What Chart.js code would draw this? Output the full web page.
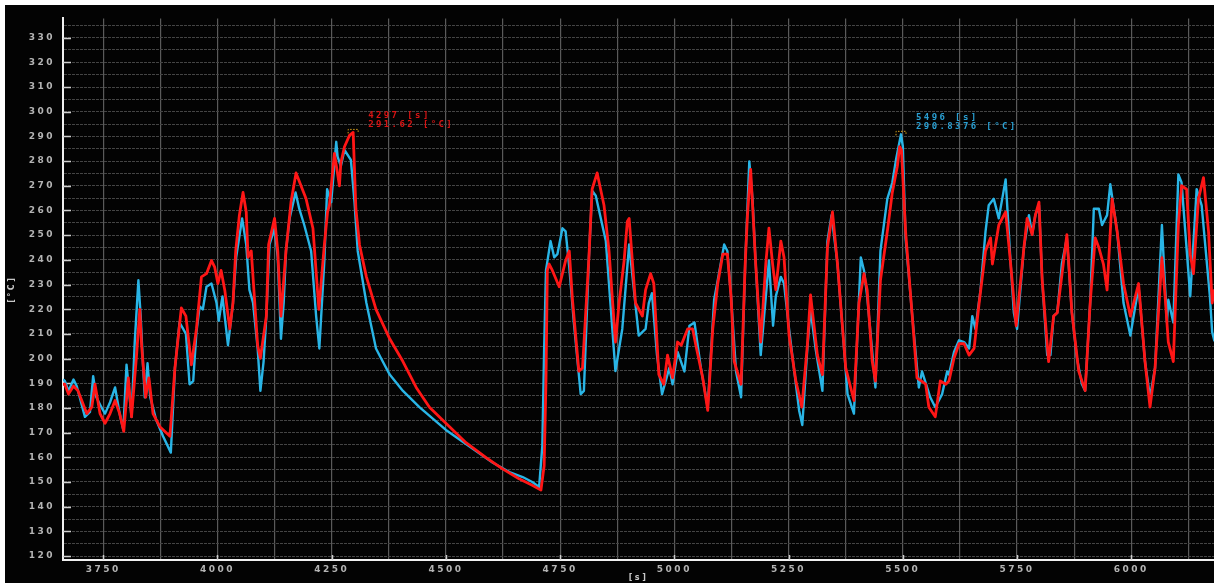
<!DOCTYPE html>
<html>
<head>
<meta charset="utf-8">
<script src="https://cdn.jsdelivr.net/npm/chart.js@4.4.1/dist/chart.umd.min.js"></script>
<style>
  html, body { margin: 0; padding: 0; background: #ffffff; width: 1214px; height: 583px; overflow: hidden; }
  #wrap { position: absolute; left: 5px; top: 5px; width: 1209px; height: 578px; background: #030303; }
</style>
</head>
<body>
<div id="wrap"><canvas id="chart"></canvas></div>
<script>
// Sensor 1 (blue) — time [s] and temperature [°C]
const blueTime = [3662,3666,3674,3685,3692,3710,3721,3728,3735,3746,3754,3765,3776,3786,3794,3801,3812,3819,3827,3832,3836,3841,3847,3853,3866,3881,3898,3907,3917,3925,3931,3939,3947,3954,3961,3968,3976,3987,3998,4003,4011,4023,4034,4041,4054,4063,4070,4078,4088,4094,4101,4107,4114,4125,4132,4139,4145,4150,4158,4171,4179,4190,4205,4216,4223,4234,4240,4249,4260,4263,4270,4278,4292,4300,4307,
  4326,4347,4358,4377,4406,4442,4500,4551,4602,4639,4668,4689,4704,4711,4715,4719,4729,4737,4744,4755,4762,4770,4780,4795,4802,4813,4820,4828,4850,4871,4886,4901,4922,4937,4944,4951,4962,4973,
  4989,4996,5007,5022,5033,5044,5058,5073,5087,5095,5109,5116,5124,5135,5146,5155,5164,5171,5178,5189,5207,5216,5222,5233,5240,5251,5273,5280,5291,5298,5309,5324,5335,5344,5357,5379,5393,5408,5415,5422,5440,5451,5466,5477,5485,5496,5500,5506,5520,5535,5542,5560,5571,5586,5597,
  5601,5612,5623,5634,5645,5652,5659,5670,5681,5688,5699,5710,5725,5736,5743,5750,5765,5776,5783,5790,5798,5805,5816,5823,5830,5838,5848,5859,5870,5881,5892,5899,5910,5918,5929,5936,5947,5954,5969,5983,5998,6016,6030,6041,6052,6067,6078,6081,6092,6103,6110,6129,6143,6154,6172,6177,6182];
const blueTemp = [191.5,190.9,186.9,191.5,188.9,176.4,178.4,192.9,184.3,180.3,177.7,182.3,188.3,177.7,171.1,197.5,176.4,206.7,231.7,217.2,201.4,184.3,198.1,184.3,175.1,168.5,161.9,196.2,214.6,212.0,210.0,189.6,190.9,210.7,221.2,219.9,229.1,230.4,222.5,215.3,225.2,205.4,222.5,241.0,256.8,246.2,227.8,222.5,204.1,186.9,198.8,217.2,246.2,252.8,241.0,208.0,222.5,243.6,256.8,267.3,260.7,254.1,243.6,217.2,204.1,239.7,268.6,263.4,287.8,281.8,277.9,284.5,280.5,263.4,243.6,
  222.5,204.1,200.1,193.5,186.9,180.3,171.1,164.5,157.9,154.0,152.0,150.0,148.0,164.5,204.1,235.7,247.6,241.0,242.3,252.8,251.5,237.0,214.6,185.6,186.9,241.0,268.0,266.0,247.6,194.9,212.0,246.2,209.3,212.0,222.5,226.5,201.4,185.6,
  196.2,189.6,202.7,194.8,213.3,214.6,196.2,180.3,223.8,231.7,246.2,243.6,225.2,194.8,184.3,238.3,279.9,264.7,238.3,201.4,239.7,213.3,225.2,233.1,230.4,212.0,179.0,173.1,204.1,219.9,204.1,186.9,247.6,258.1,238.3,185.6,177.7,241.0,235.7,225.2,188.3,243.6,264.7,271.3,280.5,290.8376,286.0,248.9,218.6,188.3,194.8,184.3,180.3,185.6,194.8,
  193.5,202.7,207.4,206.7,204.1,217.2,212.0,227.8,251.5,262.1,264.7,256.8,272.6,238.3,218.6,212.0,244.9,258.1,250.2,258.1,262.1,231.7,201.4,201.4,217.2,218.6,238.3,248.9,218.6,200.1,189.6,187.0,222.5,260.7,260.7,254.1,258.1,270.6,251.5,222.5,209.3,229.1,198.8,184.3,196.2,254.1,214.6,223.8,214.6,274.6,271.3,225.2,268.6,262.1,225.2,210.7,207.0];

// Sensor 2 (red) — time [s] and temperature [°C]
const redTime = [3662,3666,3674,3685,3695,3714,3725,3732,3743,3754,3765,3776,3786,3795,3805,3812,3823,3830,3834,3843,3850,3859,3874,3896,3907,3921,3931,3943,3954,3965,3976,3987,3994,4001,4008,4016,4027,4034,4040,4048,4056,4063,4067,4074,4088,4094,4107,4112,4125,4132,4139,4150,4161,4172,4194,4209,4222,4234,4241,4245,4256,4267,4270,4278,4289,4297,4303,
  4311,4326,4347,4377,4406,4435,4464,4500,4544,4588,4624,4660,4689,4708,4715,4719,4722,4726,4733,4748,4762,4770,4777,4791,4799,4813,4820,4831,4846,4857,4871,4879,4890,4897,4901,4915,4930,4937,4948,4955,4966,4977,4985,
  4996,5007,5015,5029,5040,5047,5062,5073,5084,5095,5106,5116,5124,5131,5146,5155,5160,5167,5178,5189,5200,5207,5215,5222,5233,5240,5251,5266,5279,5291,5298,5313,5324,5335,5346,5357,5375,5393,5404,5415,5422,5433,5440,5451,5466,5477,5488,5493,5497,5506,5520,5531,5550,5557,5571,5582,
  5594,5601,5612,5623,5634,5645,5656,5667,5681,5692,5696,5710,5725,5736,5748,5765,5772,5783,5790,5798,5805,5819,5830,5838,5859,5870,5885,5899,5910,5921,5929,5939,5947,5958,5969,5983,5998,6016,6030,6041,6052,6067,6074,6081,6092,6103,6110,6121,6129,6136,6147,6158,6169,6177,6182];
const redTemp = [189.6,189.6,185.6,188.9,186.9,177.7,180.3,189.6,177.7,173.8,177.7,183.0,177.7,170.5,192.2,176.4,201.4,219.9,205.4,184.3,192.2,177.7,172.4,168.5,196.2,220.5,217.2,197.5,212.0,233.1,234.4,239.7,237.0,230.4,235.7,227.8,212.0,222.5,243.6,258.1,267.3,259.4,241.0,243.6,205.4,200.1,217.2,246.2,256.8,243.6,217.2,243.6,263.4,275.2,264.7,252.8,219.9,246.2,259.4,262.1,283.1,270.0,279.2,285.8,290.4,291.62,260.7,
  246.0,233.1,219.9,208.0,198.8,188.3,180.3,173.8,165.9,159.9,155.3,151.3,148.7,146.7,156.6,190.9,235.7,238.3,235.7,229.1,239.7,243.6,223.8,194.9,196.2,241.0,268.6,275.2,262.1,243.6,206.7,222.5,239.7,255.5,256.8,222.5,217.2,227.8,234.4,230.4,193.5,189.6,201.4,
  192.2,206.7,205.4,212.0,212.0,205.4,192.2,179.0,212.0,230.4,242.3,242.3,225.2,198.8,189.6,238.3,258.1,276.6,238.3,206.7,238.3,252.8,238.3,227.8,247.6,241.0,209.3,190.9,180.3,205.4,225.8,201.4,193.5,244.9,259.4,238.3,196.2,183.0,222.5,234.4,227.8,198.8,190.9,231.7,251.5,267.3,277.9,285.8,284.5,251.5,218.6,192.2,189.6,180.3,176.4,190.9,
  189.6,190.9,200.1,206.0,206.0,201.4,204.1,222.5,243.6,248.9,238.3,254.1,259.4,238.3,213.3,244.9,256.8,250.2,258.1,263.4,231.7,198.8,217.2,218.6,250.2,218.6,194.8,187.0,222.5,248.9,244.9,238.3,227.8,264.7,251.5,230.4,217.2,230.4,198.8,180.3,196.2,240.9,225.2,206.7,198.8,254.1,270.0,268.6,242.3,234.4,264.7,273.3,251.5,222.5,228.0];

// Axis ticks: x grid every 125 s (labels every 250 s), y grid every 5 °C (labels every 10 °C)
const xTicks = [3750,3875,4000,4125,4250,4375,4500,4625,4750,4875,5000,5125,5250,5375,5500,5625,5750,5875,6000,6125];
const yTicks = [120,125,130,135,140,145,150,155,160,165,170,175,180,185,190,195,200,205,210,215,220,225,230,235,240,245,250,255,260,265,270,275,280,285,290,295,300,305,310,315,320,325,330,335];

// Peak cursors
const peakRedTime = 4297;
const peakRedTemp = 291.62;
const peakBlueTime = 5496;
const peakBlueTemp = 290.8376;

const RED = '#ff1616';
const BLUE = '#29b5e6';
const LABEL = '#b4b4b4';
const FONT = 'DejaVu Sans';

const spacing = {
  id: 'spacing',
  beforeLayout(chart) { chart.ctx.letterSpacing = '2.5px'; },
  beforeDraw(chart) { chart.ctx.letterSpacing = '2.5px'; }
};

// short inward tick marks on both axes
const innerTicks = {
  id: 'innerTicks',
  beforeDatasetsDraw(chart) {
    const { ctx, chartArea: a, scales: { x, y } } = chart;
    ctx.save();
    ctx.strokeStyle = '#cfcfcf';
    ctx.lineWidth = 1.5;
    ctx.beginPath();
    yTicks.filter(v => v % 10 === 0).forEach(v => {
      const py = Math.round(y.getPixelForValue(v)) + 0.5;
      ctx.moveTo(a.left, py); ctx.lineTo(a.left + 8, py);
    });
    xTicks.filter(v => v % 250 === 0).forEach(v => {
      const px = Math.round(x.getPixelForValue(v)) + 0.5;
      ctx.moveTo(px, a.bottom); ctx.lineTo(px, a.bottom - 5);
    });
    ctx.stroke();
    ctx.restore();
  }
};

// peak cursor with its readout
function drawCursor(ctx, x, y, t, v, color) {
  const px = x.getPixelForValue(t);
  const py = y.getPixelForValue(v);
  ctx.save();
  ctx.strokeStyle = '#d9a21c';
  ctx.lineWidth = 1;
  ctx.setLineDash([1.5, 1.5]);
  ctx.beginPath();
  ctx.moveTo(px - 5, py + 1); ctx.lineTo(px - 5, py - 3);
  ctx.lineTo(px + 5, py - 3); ctx.lineTo(px + 5, py + 1);
  ctx.stroke();
  ctx.setLineDash([]);
  ctx.fillStyle = color;
  ctx.font = 'bold 9px "DejaVu Sans Mono"';
  ctx.letterSpacing = '2.4px';
  ctx.textBaseline = 'middle';
  ctx.textAlign = 'left';
  ctx.fillText(t + ' [s]', px + 15, py - 16.5);
  ctx.fillText(v + ' [°C]', px + 15, py - 8);
  ctx.restore();
}

const cursors = {
  id: 'cursors',
  afterDatasetsDraw(chart) {
    const { ctx, scales: { x, y } } = chart;
    drawCursor(ctx, x, y, peakRedTime, peakRedTemp, '#d81414');
    drawCursor(ctx, x, y, peakBlueTime, peakBlueTemp, '#2a9fd2');
  }
};

new Chart(document.getElementById('chart'), {
  type: 'line',
  data: {
    datasets: [
      {
        label: 'T2',
        data: redTime.map((t, i) => ({ x: t, y: redTemp[i] })),
        borderColor: RED, borderWidth: 2.8, pointRadius: 0, tension: 0, borderJoinStyle: 'round'
      },
      {
        label: 'T1',
        data: blueTime.map((t, i) => ({ x: t, y: blueTemp[i] })),
        borderColor: BLUE, borderWidth: 2.4, pointRadius: 0, tension: 0, borderJoinStyle: 'round'
      }
    ]
  },
  options: {
    responsive: true,
    maintainAspectRatio: false,
    animation: false,
    layout: { padding: 0 },
    plugins: { legend: { display: false }, tooltip: { enabled: false } },
    scales: {
      x: {
        type: 'linear', min: 3662, max: 6181,
        afterBuildTicks: s => { s.ticks = xTicks.map(v => ({ value: v })); },
        afterFit: s => { s.height = 23; },
        ticks: {
          color: LABEL, font: { family: FONT, size: 9, weight: 'bold' },
          padding: 4, maxRotation: 0, autoSkip: false,
          callback: v => (v % 250 === 0 ? String(v) : '')
        },
        grid: { color: '#5a5a5a', lineWidth: 1.2, drawTicks: false },
        border: { color: '#f0f0f0', width: 2 },
        title: { display: true, text: '[s]', color: '#c8c8c8', font: { family: FONT, size: 8, weight: 'bold' }, padding: { top: 0, bottom: 0 } }
      },
      y: {
        type: 'linear', min: 118.4, max: 337.8,
        afterBuildTicks: s => { s.ticks = yTicks.map(v => ({ value: v })); },
        afterFit: s => { s.width = 58; },
        ticks: {
          color: LABEL, font: { family: FONT, size: 9, weight: 'bold' },
          padding: 8, autoSkip: false,
          callback: v => (v % 10 === 0 ? String(v) : '')
        },
        grid: { color: '#444444', lineWidth: 1, drawTicks: false },
        border: { color: '#f0f0f0', width: 2, dash: [3, 1] },
        title: { display: true, text: '[°C]', color: '#c8c8c8', font: { family: FONT, size: 8, weight: 'bold' }, padding: { top: 2, bottom: 0 } }
      }
    }
  },
  plugins: [spacing, innerTicks, cursors]
});
</script>
</body>
</html>
